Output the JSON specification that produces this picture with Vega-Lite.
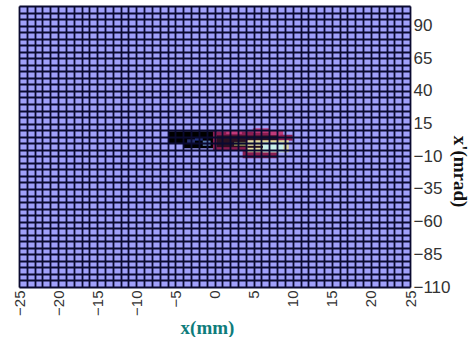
{
  "$schema": "https://vega.github.io/schema/vega-lite/v6.json",
  "width": 391,
  "height": 281,
  "autosize": "none",
  "padding": {"left": 19, "top": 6, "right": 61, "bottom": 50},
  "background": "white",
  "config": {"view": {"fill": "#a0a0fa", "stroke": "#b0b0b0", "strokeWidth": 1}},
  "data": {
    "values": [
      {"x0": -5.9, "x1": -4.0, "y0": -0.1, "y1": 9.1, "zone": "black"},
      {"x0": -4.0, "x1": 0.3, "y0": -3.9, "y1": 9.1, "zone": "black"},
      {"x0": -3.5, "x1": -2.5, "y0": 0.0, "y1": 3.0, "zone": "navy"},
      {"x0": -2.5, "x1": -1.5, "y0": 2.0, "y1": 4.0, "zone": "blue"},
      {"x0": -1.5, "x1": -0.5, "y0": -2.0, "y1": 2.0, "zone": "steel"},
      {"x0": -0.2, "x1": 8.6, "y0": -5.4, "y1": 9.1, "zone": "magenta"},
      {"x0": 0.3, "x1": 4.0, "y0": -3.0, "y1": 6.0, "zone": "dark"},
      {"x0": 1.5, "x1": 3.5, "y0": 7.0, "y1": 10.0, "zone": "pink"},
      {"x0": 4.9, "x1": 7.0, "y0": 8.0, "y1": 11.4, "zone": "pink"},
      {"x0": 7.0, "x1": 8.8, "y0": 6.0, "y1": 10.0, "zone": "pink"},
      {"x0": 8.4, "x1": 10.0, "y0": 2.0, "y1": 6.5, "zone": "magenta"},
      {"x0": 3.6, "x1": 8.0, "y0": -11.5, "y1": -5.4, "zone": "magenta"},
      {"x0": 4.0, "x1": 8.0, "y0": 2.0, "y1": 6.0, "zone": "dark"},
      {"x0": 2.5, "x1": 4.2, "y0": -2.0, "y1": 1.0, "zone": "olive"},
      {"x0": 4.2, "x1": 9.5, "y0": -6.9, "y1": 2.2, "zone": "cream"},
      {"x0": 6.2, "x1": 8.8, "y0": -6.9, "y1": 0.7, "zone": "cyan"},
      {"x0": 4.2, "x1": 6.2, "y0": -3.5, "y1": -2.0, "zone": "dark"}
    ]
  },
  "mark": {"type": "rect"},
  "encoding": {
    "x": {
      "field": "x0",
      "type": "quantitative",
      "scale": {"domain": [-25, 25], "nice": false, "zero": false},
      "axis": {
        "title": "x(mm)",
        "values": [-25,-24,-23,-22,-21,-20,-19,-18,-17,-16,-15,-14,-13,-12,-11,-10,-9,-8,-7,-6,-5,-4,-3,-2,-1,0,1,2,3,4,5,6,7,8,9,10,11,12,13,14,15,16,17,18,19,20,21,22,23,24,25],
        "labelExpr": "datum.value % 5 === 0 ? datum.label : ''",
        "labelAngle": 270,
        "labelAlign": "right",
        "labelBaseline": "middle",
        "labelPadding": 3,
        "labelFont": "Liberation Sans",
        "labelFontSize": 15,
        "labelColor": "#333333",
        "labelOverlap": false,
        "labelBound": false,
        "ticks": false,
        "domain": false,
        "grid": true,
        "gridColor": "#0a0a30",
        "gridWidth": 1.8,
        "gridOpacity": 1,
        "zindex": 1,
        "titleFont": "Liberation Serif",
        "titleFontSize": 19,
        "titleFontWeight": "bold",
        "titleColor": "#0e7c7b",
        "titleX": 188,
        "titleY": 31,
        "titleAlign": "center",
        "titleBaseline": "top"
      }
    },
    "x2": {"field": "x1"},
    "y": {
      "field": "y0",
      "type": "quantitative",
      "scale": {"domain": [-110, 105], "nice": false, "zero": false},
      "axis": {
        "orient": "right",
        "title": "x'(mrad)",
        "values": [-110,-105,-100,-95,-90,-85,-80,-75,-70,-65,-60,-55,-50,-45,-40,-35,-30,-25,-20,-15,-10,-5,0,5,10,15,20,25,30,35,40,45,50,55,60,65,70,75,80,85,90,95,100,105],
        "labelExpr": "(datum.value + 110) % 25 === 0 ? datum.label : ''",
        "labelPadding": 3,
        "labelFont": "Liberation Sans",
        "labelFontSize": 17,
        "labelColor": "#333333",
        "labelOverlap": false,
        "labelBound": false,
        "labelBaseline": "middle",
        "ticks": false,
        "domain": false,
        "grid": true,
        "gridColor": "#0a0a30",
        "gridWidth": 1.8,
        "gridOpacity": 1,
        "zindex": 1,
        "titleFont": "Liberation Serif",
        "titleFontSize": 19,
        "titleFontWeight": "bold",
        "titleColor": "#111111",
        "titleAngle": 90,
        "titleX": 49,
        "titleY": 165,
        "titleAlign": "center",
        "titleBaseline": "middle"
      }
    },
    "y2": {"field": "y1"},
    "color": {
      "field": "zone",
      "type": "nominal",
      "scale": {
        "domain": ["black", "navy", "blue", "steel", "magenta", "dark", "pink", "olive", "cream", "cyan"],
        "range": ["#000000", "#26306e", "#203080", "#5a7ab0", "#8a1c52", "#2a1022", "#c03a7a", "#8a8a50", "#e0dca0", "#c8f0ec"]
      },
      "legend": null
    }
  }
}
